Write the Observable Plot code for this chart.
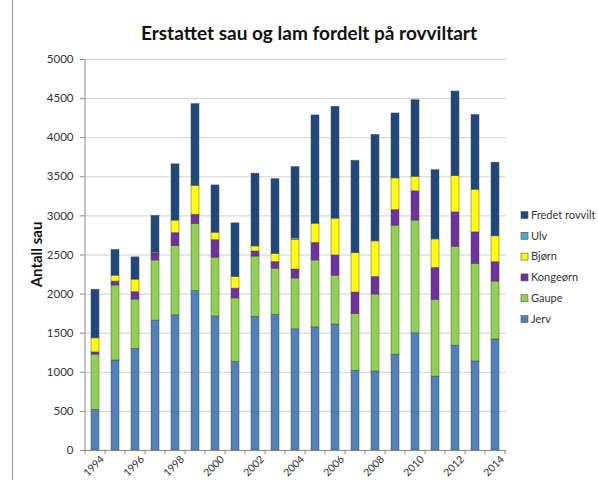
<!DOCTYPE html>
<html>
<head>
<meta charset="utf-8">
<script src="https://cdn.jsdelivr.net/npm/d3@7"></script>
<script src="https://cdn.jsdelivr.net/npm/@observablehq/plot@0.6"></script>
<style>
  html, body { margin: 0; padding: 0; background: #fff; }
  #chart { width: 598px; height: 480px; overflow: hidden; }
</style>
</head>
<body>
<div id="chart"></div>
<script>
const years = ["1994","1995","1996","1997","1998","1999","2000","2001","2002","2003","2004","2005","2006","2007","2008","2009","2010","2011","2012","2013","2014"];
const jerv     = [520,1150,1300,1660,1730,2040,1715,1135,1710,1735,1550,1575,1610,1020,1010,1225,1500, 945,1340,1140,1420];
const gaupe    = [705, 960, 630, 770, 885, 855, 750, 810, 770, 590, 650, 855, 625, 725, 985,1650,1440, 980,1265,1245, 740];
const kongeorn = [ 30,  50,  95,  90, 165, 120, 225, 125,  65,  85, 115, 225, 260, 275, 225, 200, 375, 410, 440, 405, 250];
const bjorn    = [180,  75, 160,  10, 160, 370,  95, 150,  65, 105, 380, 245, 470, 505, 455, 405, 185, 365, 465, 545, 330];
const ulv      = [  0,   0,   0,   0,   0,   0,   0,   0,   5,   0,  20,   0,   0,   0,   0,   0,   0,   0,   0,   0,   0];
const fredet   = [620, 330, 285, 470, 720,1045, 605, 685, 925, 955, 910,1385,1430,1180,1360, 830, 980, 885,1080, 955, 940];

const seriesNames = ["Jerv","Gaupe","Kongeørn","Bjørn","Ulv","Fredet rovvilt"];
const seriesValues = [jerv, gaupe, kongeorn, bjorn, ulv, fredet];
const seriesColors = ["#4F81BD","#92D050","#7030A0","#FFFF00","#4BACC6","#1F497D"];
const yTicks = [0,500,1000,1500,2000,2500,3000,3500,4000,4500,5000];

const data = seriesNames.flatMap((s, i) => years.map((y, j) => ({year: y, species: s, value: seriesValues[i][j]})));

const font = "Lato, Open Sans, Liberation Sans, sans-serif";

const plot = Plot.plot({
  width: 598,
  height: 480,
  marginLeft: 84,
  marginRight: 92,
  marginTop: 59,
  marginBottom: 30,
  style: {fontFamily: font, fontSize: "10px", color: "#333", background: "#fff"},
  x: {domain: years, paddingInner: 0.6, paddingOuter: 0.3, label: null},
  y: {domain: [0, 5000], label: null},
  color: {domain: seriesNames, range: seriesColors},
  marks: [
    Plot.gridY(yTicks, {stroke: "#d0d0d0", strokeOpacity: 1}),
    Plot.barY(data, {x: "year", y: "value", fill: "species", stroke: "#3f3f3f", strokeOpacity: 0.55, strokeWidth: 0.8}),
    Plot.axisY(yTicks, {tickSize: 4, tickPadding: 7, stroke: "#888", fontSize: 11.5, fill: "#333", label: null, tickFormat: d => String(d)}),
    Plot.axisX({tickSize: 0, tickRotate: -45, tickPadding: 6, dx: 7, dy: 1, fontSize: 10.5, fill: "#333",
                tickFormat: d => (+d % 2 === 0 ? d : ""), label: null}),
    Plot.ruleY([0], {stroke: "#888"})
  ]
});

const svg = d3.select(plot);
const xs = plot.scale("x");
const ys = plot.scale("y");
const step = xs.step;
const y0 = ys.apply(0);
const yTop = ys.apply(5000);
const half = (step - xs.bandwidth) / 2;
const xLeft = xs.apply(years[0]) - half;

// vertical y-axis line
svg.append("line").attr("x1", xLeft).attr("x2", xLeft).attr("y1", yTop).attr("y2", y0)
  .attr("stroke", "#888");
// x-axis boundary ticks
const bounds = years.map(y => xs.apply(y) - half);
bounds.push(bounds[bounds.length - 1] + step);
svg.append("g").selectAll("line").data(bounds).join("line")
  .attr("x1", d => d).attr("x2", d => d).attr("y1", y0).attr("y2", y0 + 4)
  .attr("stroke", "#888");

// left frame line
svg.append("line").attr("x1", 12.5).attr("x2", 12.5).attr("y1", 0).attr("y2", 480).attr("stroke", "#999");

// title
svg.append("text").attr("x", 309).attr("y", 40).attr("text-anchor", "middle")
  .attr("font-family", font).attr("font-size", 19).attr("font-weight", "bold").attr("fill", "#111")
  .text("Erstattet sau og lam fordelt på rovviltart");

// y label
svg.append("text").attr("transform", `translate(42,${(y0 + yTop) / 2}) rotate(-90)`).attr("text-anchor", "middle")
  .attr("font-family", font).attr("font-size", 15).attr("font-weight", "bold").attr("fill", "#111")
  .text("Antall sau");

// legend
const legendOrder = seriesNames.slice().reverse();
const lg = svg.append("g").attr("font-family", font).attr("font-size", 11).attr("fill", "#333").attr("text-anchor", "start");
legendOrder.forEach((name, i) => {
  const cy = 215 + i * 20.8;
  const idx = seriesNames.indexOf(name);
  lg.append("rect").attr("x", 521).attr("y", cy - 3.5).attr("width", 7).attr("height", 7)
    .attr("fill", seriesColors[idx]).attr("stroke", "#555").attr("stroke-width", 0.6);
  lg.append("text").attr("x", 531).attr("y", cy).attr("dy", "0.35em").attr("text-anchor", "start").text(name);
});

document.getElementById("chart").appendChild(plot);
</script>
</body>
</html>
